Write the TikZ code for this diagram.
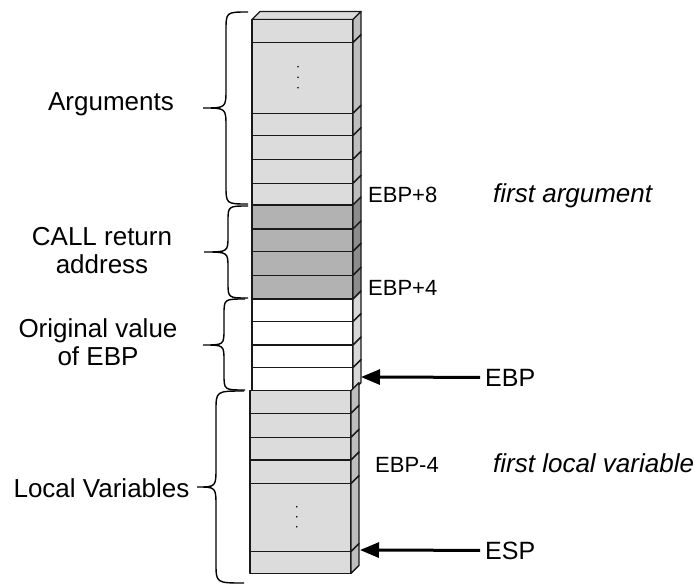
\documentclass[tikz,border=0pt]{standalone}
\usepackage{fontspec}
\setmainfont{Liberation Sans}
\usetikzlibrary{arrows.meta}
\definecolor{lgray}{HTML}{DCDCDC}
\definecolor{lside}{HTML}{BEBEBE}
\definecolor{dgray}{HTML}{B2B2B2}
\definecolor{dside}{HTML}{8C8C8C}
\definecolor{wside}{HTML}{D8D8D8}
\newcommand\stkrow[5]{%
  \filldraw[stk, fill=#4] (#1,#2) rectangle (#1+101,#3);
  \filldraw[stk, fill=#5] (#1+101,#2) -- (#1+109,#2-8) -- (#1+109,#3-8) -- (#1+101,#3) -- cycle;}
\newcommand\curlybrace[7]{% xr xm xt y1 ym y2 r
  \draw[brc] (#1,#4) .. controls (#2,#4) .. (#2,#4+#7) -- (#2,#5-#7)
    .. controls (#2,#5) .. (#3,#5) .. controls (#2,#5) .. (#2,#5+#7)
    -- (#2,#6-#7) .. controls (#2,#6) .. (#1,#6);}
\begin{document}
\begin{tikzpicture}[x=1pt,y=-1pt,
  stk/.style={draw=black!90, line width=1.4pt, line join=round},
  brc/.style={draw=black, line width=1.4pt},
  lbl/.style={font=\fontsize{26}{28}\selectfont, inner sep=0pt, align=center},
  rlbl/.style={font=\fontsize{22}{26}\selectfont, inner sep=0pt, anchor=base west},
  ilbl/.style={font=\fontsize{26}{28}\selectfont\itshape, inner sep=0pt, anchor=base west},
  plbl/.style={font=\fontsize{25}{27}\selectfont, inner sep=0pt, anchor=base west},
  ptr/.style={line width=3pt, -{Triangle[length=19pt,width=15pt]}}]
\useasboundingbox (0,0) rectangle (696,584);
\fill[white] (0,0) rectangle (696,584);
% top face
\filldraw[stk, fill=lgray] (252,19.5) -- (260,11.5) -- (361,11.5) -- (353,19.5) -- cycle;
% arguments
\stkrow{252}{19.5}{42.7}{lgray}{lside}
\stkrow{252}{42.7}{113.3}{lgray}{lside}
\stkrow{252}{113.3}{135.7}{lgray}{lside}
\stkrow{252}{135.7}{159.3}{lgray}{lside}
\stkrow{252}{159.3}{183.3}{lgray}{lside}
\stkrow{252}{183.3}{205}{lgray}{lside}
% call return address
\stkrow{252}{205}{229}{dgray}{dside}
\stkrow{252}{229}{251.3}{dgray}{dside}
\stkrow{252}{251.3}{275.3}{dgray}{dside}
\stkrow{252}{275.3}{299}{dgray}{dside}
% original EBP
\stkrow{252}{299}{321.7}{white}{wside}
\stkrow{252}{321.7}{345}{white}{wside}
\stkrow{252}{345}{367.7}{white}{wside}
\stkrow{252}{367.7}{390.7}{white}{wside}
% local variables
\stkrow{250}{390.7}{413.3}{lgray}{lside}
\stkrow{250}{413.3}{437.3}{lgray}{lside}
\stkrow{250}{437.3}{460}{lgray}{lside}
\stkrow{250}{460}{483.7}{lgray}{lside}
\stkrow{250}{483.7}{551.7}{lgray}{lside}
\stkrow{250}{551.7}{573.3}{lgray}{lside}
% dots
\foreach \yy in {66.7,77.2,87.7} \fill (298,\yy) circle (0.9);
\foreach \yy in {506.7,516.7,526.7} \fill (296.7,\yy) circle (0.9);
% braces
\curlybrace{248}{226}{203}{12}{108}{204}{19}
\curlybrace{248}{228}{204}{206}{252}{298}{16}
\curlybrace{245}{224}{203}{299}{345}{390}{16}
\curlybrace{244}{216}{197}{391}{487}{583}{20}
% left labels
\node[lbl, anchor=base] (args) at (111,110) {Arguments};
\node[lbl] (call) at (102,251) {CALL return\\address};
\node[lbl] (orig) at (98,342) {Original value\\of EBP};
\node[lbl, anchor=base] (locs) at (101.5,497) {Local Variables};
% right labels
\node[rlbl] (ebp8) at (368,202) {EBP+8};
\node[ilbl] (farg) at (493,202) {first argument};
\node[rlbl] (ebp4) at (368,295) {EBP+4};
\node[rlbl] (ebpm4) at (375,472) {EBP-4};
\node[ilbl] (floc) at (493,472) {first local variable};
% pointers
\node[plbl] (ebpl) at (485,386) {EBP};
\node[plbl] (espl) at (485,559) {ESP};
\coordinate (ebptip) at (361,377);
\coordinate (esptip) at (360,550);
\draw[ptr] ([xshift=-5pt]ebpl.west) -- (ebptip);
\draw[ptr] ([xshift=-5pt]espl.west) -- (esptip);
\end{tikzpicture}
\end{document}
